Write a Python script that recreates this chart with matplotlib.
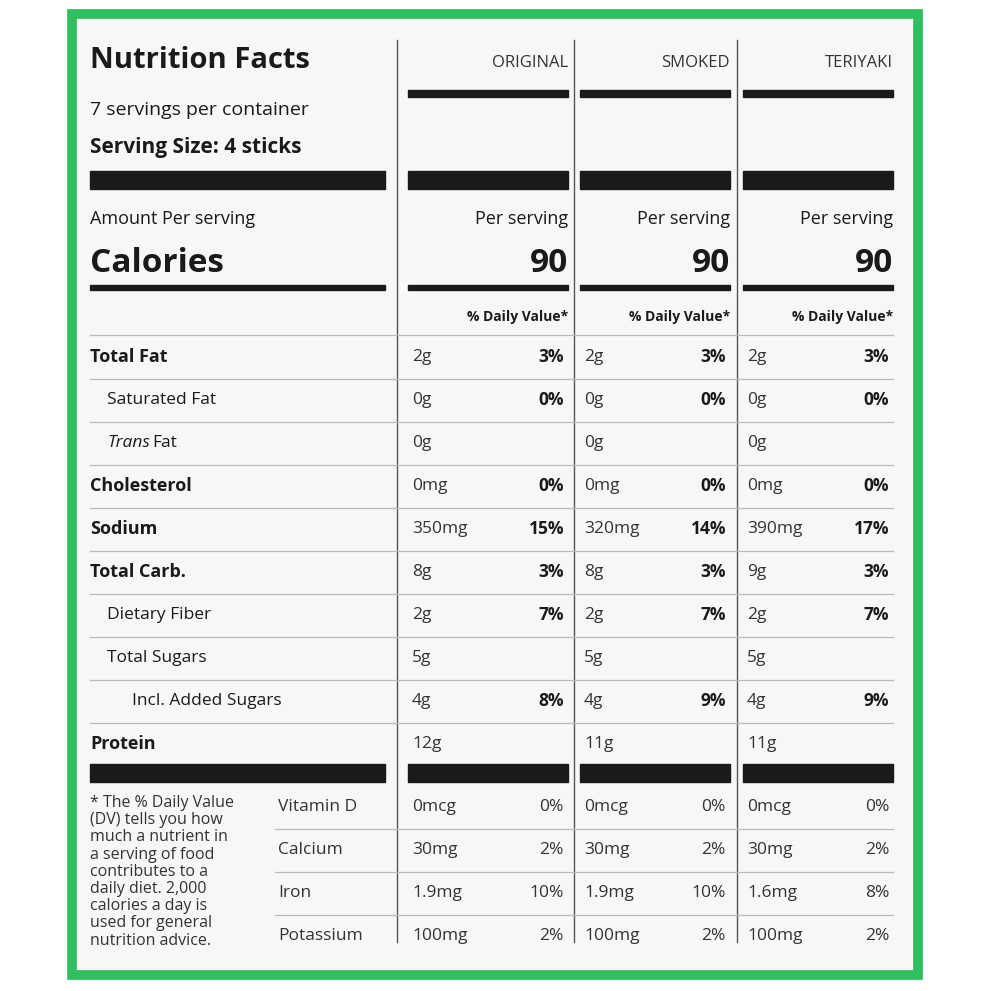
import matplotlib
matplotlib.use("Agg")
import matplotlib.pyplot as plt
from matplotlib.patches import Rectangle

products = ["ORIGINAL", "SMOKED", "TERIYAKI"]
calories = ["90", "90", "90"]
main_labels = ["Total Fat", "Saturated Fat", "Trans Fat", "Cholesterol", "Sodium",
               "Total Carb.", "Dietary Fiber", "Total Sugars", "Incl. Added Sugars", "Protein"]
main_bold = [True, False, False, True, True, True, False, False, False, True]
main_indent = [0, 1, 1, 0, 0, 0, 1, 1, 2, 0]
original_amt = ["2g", "0g", "0g", "0mg", "350mg", "8g", "2g", "5g", "4g", "12g"]
original_dv = ["3%", "0%", "", "0%", "15%", "3%", "7%", "", "8%", ""]
smoked_amt = ["2g", "0g", "0g", "0mg", "320mg", "8g", "2g", "5g", "4g", "11g"]
smoked_dv = ["3%", "0%", "", "0%", "14%", "3%", "7%", "", "9%", ""]
teriyaki_amt = ["2g", "0g", "0g", "0mg", "390mg", "9g", "2g", "5g", "4g", "11g"]
teriyaki_dv = ["3%", "0%", "", "0%", "17%", "3%", "7%", "", "9%", ""]
vit_labels = ["Vitamin D", "Calcium", "Iron", "Potassium"]
original_vit = ["0mcg", "30mg", "1.9mg", "100mg"]
original_vit_dv = ["0%", "2%", "10%", "2%"]
smoked_vit = ["0mcg", "30mg", "1.9mg", "100mg"]
smoked_vit_dv = ["0%", "2%", "10%", "2%"]
teriyaki_vit = ["0mcg", "30mg", "1.6mg", "100mg"]
teriyaki_vit_dv = ["0%", "2%", "8%", "2%"]

amts = [original_amt, smoked_amt, teriyaki_amt]
dvs = [original_dv, smoked_dv, teriyaki_dv]
vits = [original_vit, smoked_vit, teriyaki_vit]
vdvs = [original_vit_dv, smoked_vit_dv, teriyaki_vit_dv]

FONT = "Open Sans"
DARK = "#1a1a1a"
fig = plt.figure(figsize=(9.91, 9.91), dpi=100)
fig.patch.set_facecolor("white")
ax = fig.add_axes([0, 0, 1, 1])
ax.set_xlim(0, 991); ax.set_ylim(991, 0); ax.axis("off")

ax.add_patch(Rectangle((72, 14), 846, 961, facecolor="#f7f7f5", edgecolor="#2fbf5f", lw=7))

cols = [(408, 568), (580, 730), (743, 893)]
def t(x, y, s, size=13, weight="normal", ha="left", style="normal", color=DARK):
    ax.text(x, y, s, fontsize=size, fontweight=weight, ha=ha, va="center",
            family=FONT, style=style, color=color)

# vertical lines
for x in [397, 574, 737]:
    ax.plot([x, x], [40, 942], color="#555555", lw=1)

t(90, 60, "Nutrition Facts", 21, "bold")
t(90, 110, "7 servings per container", 14)
t(90, 147, "Serving Size: 4 sticks", 15, "bold")
ax.add_patch(Rectangle((90, 171), 295, 18, color=DARK))
t(90, 219, "Amount Per serving", 13)
t(90, 263, "Calories", 24, "bold")
ax.add_patch(Rectangle((90, 285), 295, 5, color=DARK))

for i, (x0, x1) in enumerate(cols):
    t(x1, 63, products[i], 12, color="#333333", ha="right")
    ax.add_patch(Rectangle((x0, 90), x1 - x0, 7, color=DARK))
    ax.add_patch(Rectangle((x0, 171), x1 - x0, 18, color=DARK))
    t(x1, 219, "Per serving", 13, ha="right")
    t(x1, 263, calories[i], 24, "bold", ha="right")
    ax.add_patch(Rectangle((x0, 285), x1 - x0, 5, color=DARK))
    t(x1, 317, "% Daily Value*", 10, "bold", ha="right")
    ax.add_patch(Rectangle((x0, 764), x1 - x0, 18, color=DARK))

row_y = [357 + 43 * k for k in range(10)]
for k, lab in enumerate(main_labels):
    y = row_y[k]
    x = 90 + [0, 17, 42][main_indent[k]]
    if lab == "Trans Fat":
        ax.text(x, y, "Trans", fontsize=12.5, style="italic", family=FONT, va="center", color=DARK)
        t(x + 45, y, "Fat", 12.5)
    else:
        t(x, y, lab, 12.5 if not main_bold[k] else 13, "bold" if main_bold[k] else "normal")
    for i, (x0, x1) in enumerate(cols):
        t(x0 + 4, y, amts[i][k], 12.5, color="#333333")
        if dvs[i][k]:
            t(x1 - 4, y, dvs[i][k], 12.5, "bold", ha="right")
for y in [335] + [r + 21.5 for r in row_y[:-1]]:
    ax.plot([90, 893], [y, y], color="#bbbbbb", lw=0.9)
ax.add_patch(Rectangle((90, 764), 295, 18, color=DARK))

vy = [807, 850, 893, 936]
for k, lab in enumerate(vit_labels):
    t(278, vy[k], lab, 12.5, color="#333333")
    for i, (x0, x1) in enumerate(cols):
        t(x0 + 4, vy[k], vits[i][k], 12.5, color="#333333")
        t(x1 - 4, vy[k], vdvs[i][k], 12.5, ha="right", color="#333333")
for y in vy[:-1]:
    ax.plot([275, 893], [y + 21.5, y + 21.5], color="#bbbbbb", lw=0.9)

foot = ["* The % Daily Value", "(DV) tells you how", "much a nutrient in",
        "a serving of food", "contributes to a", "daily diet. 2,000",
        "calories a day is", "used for general", "nutrition advice."]
for k, s in enumerate(foot):
    t(90, 803 + 17.2 * k, s, 11.5, color="#333333")

fig.savefig("out.png", dpi=100, facecolor="white")
